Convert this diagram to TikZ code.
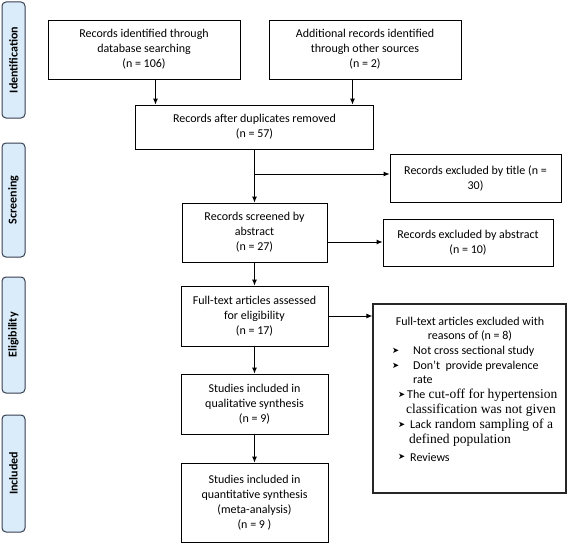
\documentclass[tikz,border=0pt]{standalone}
\usepackage{fontspec}
\setmainfont{Carlito}
\newfontfamily\serif{Liberation Serif}
\newfontfamily\dejavu{DejaVu Sans}
\usetikzlibrary{arrows.meta}
\definecolor{lblfill}{RGB}{218,236,250}
\definecolor{lbledge}{RGB}{55,62,78}
\begin{document}
\begin{tikzpicture}[x=1pt,y=-1pt,
  box/.style={draw=black, line width=0.8pt, align=center, inner sep=2pt,
    font=\fontsize{12}{15}\selectfont},
  sidelbl/.style={draw=lbledge, fill=lblfill, line width=1pt, rounded corners=4pt,
    minimum width=23pt, inner sep=0pt},
  sidetxt/.style={rotate=90, font=\bfseries\fontsize{12}{14}\selectfont, inner sep=0pt},
  arr/.style={line width=0.9pt, -{Latex[length=6pt,width=5pt]}},
  ltxt/.style={anchor=west, inner sep=0pt, font=\fontsize{12}{14}\selectfont},
  ctxt/.style={inner sep=0pt, font=\fontsize{12}{14}\selectfont},
  sf/.style={font=\serif\fontsize{13.5}{15}\selectfont},
  bul/.style={anchor=west, inner sep=0pt, font=\dejavu\fontsize{8.5}{10}\selectfont}
]
\useasboundingbox (0,0) rectangle (567,543);

% side labels
\node[sidelbl, minimum height=116pt] (sIdent) at (13.5,60) {};
\node[sidetxt] (tIdent) at (sIdent.center) {Identification};
\node[sidelbl, minimum height=114pt] (sScreen) at (13.5,200) {};
\node[sidetxt] (tScreen) at (sScreen.center) {Screening};
\node[sidelbl, minimum height=116pt] (sElig) at (13.5,335) {};
\node[sidetxt] (tElig) at (sElig.center) {Eligibility};
\node[sidelbl, minimum height=117pt] (sIncl) at (13.5,473.5) {};
\node[sidetxt] (tIncl) at (sIncl.center) {Included};

% boxes
\node[box, minimum width=192pt, minimum height=59pt] (ident) at (144,49.5)
  {Records identified through\\database searching\\(n = 106)};
\node[box, minimum width=192pt, minimum height=59pt] (addl) at (365,49.5)
  {Additional records identified\\through other sources\\(n = 2)};
\node[box, minimum width=238pt, minimum height=44pt] (dup) at (254.5,127)
  {Records after duplicates removed\\(n = 57)};
\node[box, minimum width=171pt, minimum height=48pt] (title) at (475.5,178)
  {Records excluded by title (n =\\30)};
\node[box, minimum width=145pt, minimum height=59pt] (screened) at (254.5,232.5)
  {Records screened by\\abstract\\(n = 27)};
\node[box, minimum width=170pt, minimum height=47pt] (abstract) at (468,242.5)
  {Records excluded by abstract\\(n = 10)};
\node[box, minimum width=147pt, minimum height=60pt] (fulltext) at (254.5,316)
  {Full-text articles assessed\\for eligibility\\(n = 17)};
\node[box, line width=1.2pt, draw=black!85, minimum width=193pt, minimum height=189pt] (excl) at (469.5,398.5) {};
\node[box, minimum width=147pt, minimum height=60pt] (qual) at (254.5,404)
  {Studies included in\\qualitative synthesis\\(n = 9)};
\node[box, minimum width=147pt, minimum height=79pt] (quant) at (254.5,502.5)
  {Studies included in\\quantitative synthesis\\(meta-analysis)\\(n = 9 )};

% exclusion list
\node[ctxt] (h1) at (470,321) {Full-text articles excluded with};
\node[ctxt] (h2) at (470,336) {reasons of (n = 8)};
\node[bul] (b1) at (392,351) {➤};
\node[ltxt] (l1) at (413,351) {Not cross sectional study};
\node[bul] (b2) at (392,366) {➤};
\node[ltxt] (l2) at (413,366) {Don’t\ \ provide prevalence};
\node[ltxt] (l3) at (413,380) {rate};
\node[bul] (b3) at (398,395) {➤};
\node[ltxt] (l4) at (407,395) {The{\serif\fontsize{13.5}{15}\selectfont\ cut-off for hypertension}};
\node[ltxt, sf] (l5) at (406,410) {classification was not given};
\node[bul] (b4) at (398,425) {➤};
\node[ltxt] (l6) at (410,425) {Lack{\serif\fontsize{13.5}{15}\selectfont\ random sampling of a}};
\node[ltxt, sf] (l7) at (409,440) {defined population};
\node[bul] (b5) at (398,457) {➤};
\node[ltxt] (l8) at (410,457) {Reviews};

% connectors
\coordinate (a1) at (155.5,0);
\coordinate (a2) at (352.5,0);
\coordinate (br) at (254.5,174);
\coordinate (a3) at (0,242);
\draw[arr] (ident.south -| a1) -- (dup.north -| a1);
\draw[arr] (addl.south -| a2) -- (dup.north -| a2);
\draw[arr] (dup.south) -- (screened.north);
\draw[arr] (br) -- (br -| title.west);
\draw[arr] (screened.east |- a3) -- (abstract.west |- a3);
\draw[arr] (screened.south) -- (fulltext.north);
\draw[arr] (fulltext.east) -- (fulltext.east -| excl.west);
\draw[arr] (fulltext.south) -- (qual.north);
\draw[arr] (qual.south) -- (quant.north);
\end{tikzpicture}
\end{document}
